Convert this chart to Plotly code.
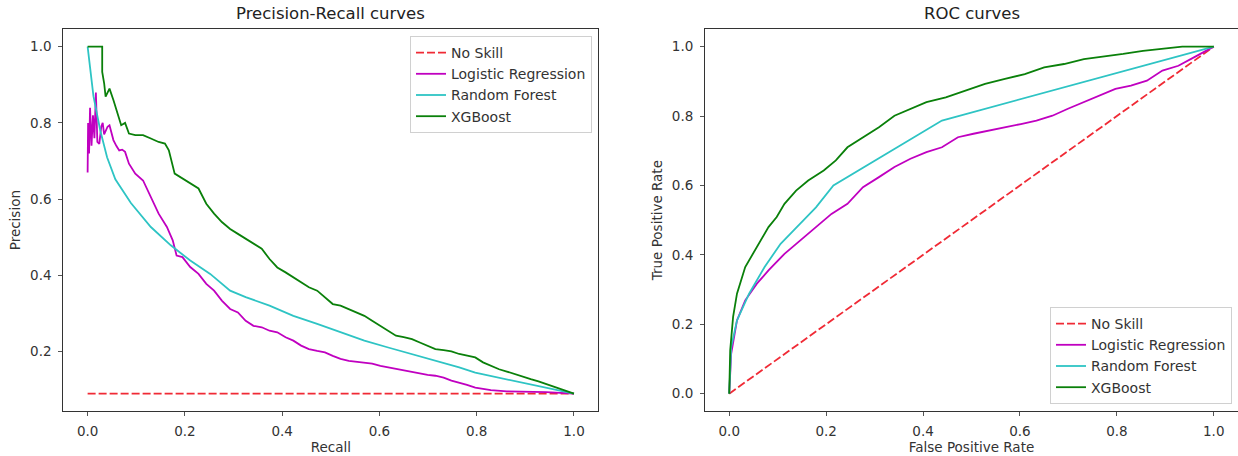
import plotly.graph_objects as go

# ---------------- data ----------------
series_names = ["No Skill", "Logistic Regression", "Random Forest", "XGBoost"]
no_skill_precision = 0.09

pr_nskill_recall = [0.0, 1.0]
pr_nskill_precision = [no_skill_precision, no_skill_precision]

pr_lr_recall = [0.0, 0.001, 0.003, 0.005, 0.008, 0.011, 0.014, 0.017, 0.020, 0.024, 0.028, 0.031, 0.034,
                0.037, 0.041, 0.045, 0.049, 0.053, 0.059, 0.065, 0.071, 0.077, 0.085, 0.098, 0.114, 0.130,
                0.146, 0.163, 0.175, 0.183, 0.195, 0.211, 0.228, 0.244, 0.260, 0.276, 0.293, 0.309, 0.325,
                0.341, 0.358, 0.374, 0.390, 0.407, 0.423, 0.439, 0.455, 0.472, 0.488, 0.504, 0.520, 0.537,
                0.553, 0.569, 0.585, 0.602, 0.618, 0.634, 0.650, 0.667, 0.683, 0.699, 0.715, 0.732, 0.748,
                0.764, 0.780, 0.797, 0.813, 0.829, 0.862, 0.894, 0.943, 1.0]
pr_lr_precision = [0.67, 0.80, 0.72, 0.84, 0.74, 0.82, 0.76, 0.88, 0.75, 0.745, 0.79, 0.80, 0.77,
                   0.78, 0.79, 0.794, 0.77, 0.755, 0.74, 0.728, 0.73, 0.724, 0.693, 0.667, 0.649, 0.606,
                   0.562, 0.527, 0.492, 0.452, 0.448, 0.422, 0.404, 0.378, 0.360, 0.334, 0.312, 0.303, 0.281,
                   0.268, 0.264, 0.255, 0.251, 0.238, 0.229, 0.216, 0.207, 0.202, 0.198, 0.189, 0.181, 0.176,
                   0.174, 0.172, 0.169, 0.163, 0.159, 0.154, 0.150, 0.146, 0.143, 0.139, 0.137, 0.132, 0.124,
                   0.119, 0.113, 0.106, 0.102, 0.099, 0.096, 0.095, 0.094, 0.09]

pr_rf_recall = [0.0, 0.012, 0.026, 0.040, 0.057, 0.089, 0.130, 0.171, 0.211, 0.252, 0.293, 0.325, 0.374,
                0.423, 0.472, 0.520, 0.569, 0.618, 0.667, 0.715, 0.764, 0.797, 0.846, 0.894, 0.943, 1.0]
pr_rf_precision = [1.0, 0.87, 0.78, 0.71, 0.652, 0.59, 0.527, 0.479, 0.439, 0.404, 0.360, 0.343, 0.321,
                   0.294, 0.273, 0.251, 0.229, 0.211, 0.194, 0.176, 0.159, 0.145, 0.132, 0.119, 0.106, 0.09]

pr_xgb_recall = [0.0, 0.030, 0.030, 0.034, 0.037, 0.045, 0.053, 0.061, 0.069, 0.077, 0.085, 0.098, 0.114,
                 0.130, 0.146, 0.159, 0.167, 0.179, 0.195, 0.211, 0.228, 0.244, 0.260, 0.276, 0.293, 0.309,
                 0.325, 0.341, 0.358, 0.374, 0.390, 0.407, 0.423, 0.439, 0.455, 0.472, 0.488, 0.504, 0.520,
                 0.537, 0.553, 0.569, 0.585, 0.602, 0.618, 0.634, 0.650, 0.667, 0.683, 0.699, 0.715, 0.732,
                 0.748, 0.764, 0.780, 0.797, 0.813, 0.829, 0.846, 0.862, 0.878, 0.894, 0.911, 0.927, 0.943,
                 0.959, 0.976, 1.0]
pr_xgb_precision = [1.0, 1.0, 0.934, 0.904, 0.869, 0.89, 0.86, 0.825, 0.794, 0.80, 0.772, 0.768, 0.768,
                    0.759, 0.750, 0.746, 0.728, 0.667, 0.654, 0.640, 0.628, 0.588, 0.562, 0.540, 0.522, 0.509,
                    0.496, 0.483, 0.470, 0.443, 0.421, 0.408, 0.395, 0.382, 0.369, 0.360, 0.343, 0.325, 0.321,
                    0.312, 0.303, 0.294, 0.281, 0.268, 0.255, 0.242, 0.238, 0.233, 0.224, 0.216, 0.207, 0.204,
                    0.201, 0.194, 0.189, 0.185, 0.172, 0.163, 0.154, 0.148, 0.141, 0.134, 0.128, 0.122, 0.115,
                    0.109, 0.102, 0.09]

roc_nskill_fpr = [0.0, 1.0]
roc_nskill_tpr = [0.0, 1.0]

roc_lr_fpr = [0.0, 0.004, 0.016, 0.033, 0.057, 0.081, 0.114, 0.146, 0.179, 0.211, 0.244, 0.276, 0.309,
              0.341, 0.374, 0.407, 0.439, 0.472, 0.504, 0.537, 0.569, 0.602, 0.634, 0.667, 0.699, 0.732,
              0.764, 0.797, 0.829, 0.862, 0.894, 0.927, 0.959, 1.0]
roc_lr_tpr = [0.0, 0.115, 0.211, 0.269, 0.317, 0.355, 0.403, 0.441, 0.480, 0.518, 0.547, 0.595, 0.624,
              0.653, 0.677, 0.696, 0.710, 0.739, 0.749, 0.758, 0.768, 0.777, 0.787, 0.801, 0.821, 0.840,
              0.859, 0.878, 0.888, 0.902, 0.931, 0.945, 0.969, 1.0]

roc_rf_fpr = [0.0, 0.004, 0.016, 0.041, 0.073, 0.106, 0.146, 0.179, 0.215, 0.439, 1.0]
roc_rf_tpr = [0.0, 0.134, 0.211, 0.288, 0.365, 0.432, 0.489, 0.537, 0.600, 0.787, 1.0]

roc_xgb_fpr = [0.0, 0.002, 0.008, 0.016, 0.033, 0.049, 0.065, 0.081, 0.098, 0.114, 0.138, 0.163, 0.195,
               0.220, 0.244, 0.276, 0.309, 0.341, 0.374, 0.407, 0.447, 0.488, 0.528, 0.569, 0.610, 0.650,
               0.691, 0.732, 0.772, 0.813, 0.854, 0.894, 0.935, 1.0]
roc_xgb_tpr = [0.0, 0.125, 0.221, 0.288, 0.365, 0.403, 0.441, 0.480, 0.509, 0.547, 0.585, 0.614, 0.643,
               0.672, 0.710, 0.739, 0.768, 0.801, 0.821, 0.840, 0.854, 0.873, 0.893, 0.907, 0.921, 0.940,
               0.950, 0.964, 0.971, 0.979, 0.988, 0.993, 1.0, 1.0]

tick_vals = [0.0, 0.2, 0.4, 0.6, 0.8, 1.0]
pr_ytick_vals = [0.2, 0.4, 0.6, 0.8, 1.0]

# ---------------- styling ----------------
COL = {"No Skill": "#f02a35", "Logistic Regression": "#c000c0",
       "Random Forest": "#2ec4c4", "XGBoost": "#0a800a"}
FONT = "DejaVu Sans"
W, H = 1238, 456
TICK_FS = 13.5
LAB_FS = 13.5

fig = go.Figure()

pr_data = [(pr_nskill_recall, pr_nskill_precision), (pr_lr_recall, pr_lr_precision),
           (pr_rf_recall, pr_rf_precision), (pr_xgb_recall, pr_xgb_precision)]
roc_data = [(roc_nskill_fpr, roc_nskill_tpr), (roc_lr_fpr, roc_lr_tpr),
            (roc_rf_fpr, roc_rf_tpr), (roc_xgb_fpr, roc_xgb_tpr)]

for name, (x, y) in zip(series_names, pr_data):
    fig.add_trace(go.Scatter(x=x, y=y, mode="lines", name=name, xaxis="x", yaxis="y",
                             legend="legend",
                             line=dict(color=COL[name], width=1.8,
                                       dash="8px,3px" if name == "No Skill" else "solid")))
for name, (x, y) in zip(series_names, roc_data):
    fig.add_trace(go.Scatter(x=x, y=y, mode="lines", name=name, xaxis="x2", yaxis="y2",
                             legend="legend2",
                             line=dict(color=COL[name], width=1.8,
                                       dash="8px,3px" if name == "No Skill" else "solid")))

axis_common = dict(showline=True, mirror=True, linecolor="#333333", linewidth=1,
                   showgrid=False, zeroline=False, ticks="outside", ticklen=4,
                   tickcolor="#555555", tickwidth=1, tickformat=".1f",
                   tickfont=dict(family=FONT, size=TICK_FS, color="#333333"),
                   ticklabelstandoff=4)

y_dom = [(H - 411) / H, (H - 29.3) / H]

fig.update_layout(
    width=W, height=H, paper_bgcolor="white", plot_bgcolor="white",
    margin=dict(l=0, r=0, t=0, b=0, autoexpand=False),
    font=dict(family=FONT, size=LAB_FS, color="#333333"),
    xaxis=dict(axis_common, domain=[63.3 / W, 598.3 / W], range=[-0.05, 1.05],
               tickvals=tick_vals, anchor="y",
               title=dict(text="Recall", standoff=4, font=dict(family=FONT, size=LAB_FS))),
    yaxis=dict(axis_common, domain=y_dom, range=[no_skill_precision - 0.0455, 1.0455],
               tickvals=pr_ytick_vals, anchor="x",
               title=dict(text="Precision", standoff=6, font=dict(family=FONT, size=LAB_FS))),
    xaxis2=dict(axis_common, domain=[705.0 / W, 1.0], range=[-0.05, 1.05],
                tickvals=tick_vals, anchor="y2",
                title=dict(text="False Positive Rate", standoff=4, font=dict(family=FONT, size=LAB_FS))),
    yaxis2=dict(axis_common, domain=y_dom, range=[-0.05, 1.05],
                tickvals=tick_vals, anchor="x2",
                title=dict(text="True Positive Rate", standoff=6, font=dict(family=FONT, size=LAB_FS))),
    legend=dict(x=592 / W, y=(H - 36) / H, xanchor="right", yanchor="top",
                bgcolor="rgba(255,255,255,0.85)", bordercolor="#d0d0d0", borderwidth=1,
                font=dict(family=FONT, size=14, color="#333333"), tracegroupgap=0),
    legend2=dict(x=1232 / W, y=(H - 404) / H, xanchor="right", yanchor="bottom",
                 bgcolor="rgba(255,255,255,0.85)", bordercolor="#d0d0d0", borderwidth=1,
                 font=dict(family=FONT, size=14, color="#333333"), tracegroupgap=0),
    annotations=[
        dict(text="Precision-Recall curves", x=(63.3 + 598.3) / 2 / W, y=(H - 14) / H,
             xref="paper", yref="paper", xanchor="center", yanchor="middle", showarrow=False,
             font=dict(family=FONT, size=16.5, color="#222222")),
        dict(text="ROC curves", x=(705 + 1238) / 2 / W, y=(H - 14) / H,
             xref="paper", yref="paper", xanchor="center", yanchor="middle", showarrow=False,
             font=dict(family=FONT, size=16.5, color="#222222")),
    ],
)

fig.write_html("out.html", config={"displayModeBar": False},
               post_script="document.body.style.margin='0';")
